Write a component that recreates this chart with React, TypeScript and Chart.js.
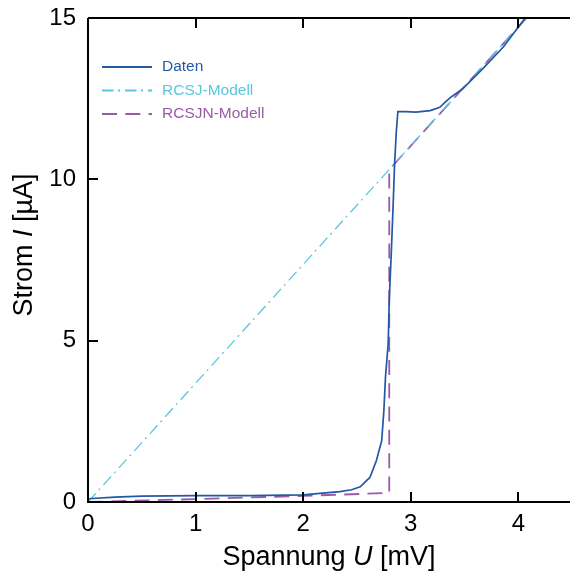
import React, { useEffect, useRef } from "react";
import { Chart, registerables } from "chart.js";

Chart.register(...registerables);

// Measured data (Daten)
const datenU = [0, 0.25, 0.5, 1.0, 1.5, 2.0, 2.34, 2.45, 2.53, 2.62, 2.68, 2.73, 2.75, 2.765, 2.79, 2.8, 2.82, 2.835, 2.85, 2.865, 2.88, 2.95, 3.05, 3.18, 3.27, 3.32, 3.37, 3.48, 3.67, 3.86, 4.07, 4.2];
const datenI = [0.1, 0.15, 0.18, 0.2, 0.2, 0.22, 0.32, 0.38, 0.47, 0.76, 1.28, 1.9, 2.83, 3.87, 4.9, 6.26, 7.8, 9.1, 10.5, 11.45, 12.1, 12.1, 12.08, 12.13, 12.23, 12.39, 12.54, 12.8, 13.43, 14.1, 15.03, 15.5];

// RCSJ model
const rcsjU = [0, 4.1];
const rcsjI = [0, 15.09];

// RCSJN model
const rcsjnU = [0, 1.0, 2.0, 2.8, 2.8, 4.1];
const rcsjnI = [0, 0.09, 0.19, 0.28, 10.3, 15.09];

const xTicks = [0, 1, 2, 3, 4];
const yTicks = [0, 5, 10, 15];

const seriesNames = ["Daten", "RCSJ-Modell", "RCSJN-Modell"];
const colors = ["#2358a6", "#5cc6dc", "#9b5aa8"];
const dashes: number[][] = [[], [11.5, 4.5, 2, 5], [15, 8.3]];

const FONT = "'Liberation Sans', Arial, Helvetica, sans-serif";

const toPts = (xs: number[], ys: number[]) => xs.map((x, i) => ({ x, y: ys[i] }));

const decorPlugin = {
  id: "decor",
  afterDraw(chart: any) {
    const ctx = chart.ctx as CanvasRenderingContext2D;
    const { left, right, top, bottom } = chart.chartArea;
    const xs = chart.scales.x;
    const ys = chart.scales.y;
    ctx.save();
    // frame
    ctx.strokeStyle = "#000";
    ctx.lineWidth = 2;
    ctx.setLineDash([]);
    ctx.beginPath();
    ctx.moveTo(left, top);
    ctx.lineTo(right, top);
    ctx.moveTo(left, top);
    ctx.lineTo(left, bottom);
    ctx.lineTo(right, bottom);
    ctx.stroke();
    // inward ticks
    ctx.lineWidth = 2;
    ctx.beginPath();
    xTicks.forEach((v) => {
      if (v === 0) return;
      const px = Math.round(xs.getPixelForValue(v));
      ctx.moveTo(px, bottom);
      ctx.lineTo(px, bottom - 10);
      ctx.moveTo(px, top);
      ctx.lineTo(px, top + 10);
    });
    yTicks.forEach((v) => {
      if (v === 0 || v === 15) return;
      const py = Math.round(ys.getPixelForValue(v));
      ctx.moveTo(left, py);
      ctx.lineTo(left + 10, py);
    });
    ctx.stroke();

    // axis titles with italic symbol
    const drawMixed = (parts: [string, boolean][], cx: number, cy: number, rotate: boolean) => {
      ctx.save();
      ctx.translate(cx, cy);
      if (rotate) ctx.rotate(-Math.PI / 2);
      ctx.fillStyle = "#000";
      ctx.textBaseline = "alphabetic";
      ctx.textAlign = "left";
      let total = 0;
      const widths = parts.map(([t, it]) => {
        ctx.font = `${it ? "italic " : ""}27px ${FONT}`;
        const w = ctx.measureText(t).width;
        total += w;
        return w;
      });
      let x = -total / 2;
      parts.forEach(([t, it], i) => {
        ctx.font = `${it ? "italic " : ""}27px ${FONT}`;
        ctx.fillText(t, x, 0);
        x += widths[i];
      });
      ctx.restore();
    };
    drawMixed([["Spannung ", false], ["U", true], [" [mV]", false]], (left + right) / 2, 565, false);
    drawMixed([["Strom ", false], ["I", true], [" [µA]", false]], 32, 245, true);

    // legend
    ctx.font = `15.5px ${FONT}`;
    ctx.textBaseline = "middle";
    ctx.textAlign = "left";
    seriesNames.forEach((name, i) => {
      const y = 67 + i * 23.5;
      ctx.strokeStyle = colors[i];
      ctx.lineWidth = 2;
      ctx.setLineDash(dashes[i]);
      ctx.beginPath();
      ctx.moveTo(left + 14, y);
      ctx.lineTo(left + 64, y);
      ctx.stroke();
      ctx.fillStyle = colors[i];
      ctx.fillText(name, left + 74, y);
    });
    ctx.restore();
  },
};

export default function App() {
  const ref = useRef<HTMLCanvasElement | null>(null);
  useEffect(() => {
    document.body.style.margin = "0";
    if (!ref.current) return;
    const chart = new Chart(ref.current, {
      type: "scatter",
      data: {
        datasets: [
          {
            label: seriesNames[0],
            data: toPts(datenU, datenI),
            showLine: true,
            borderColor: colors[0],
            borderWidth: 1.7,
            pointRadius: 0,
            tension: 0,
          },
          {
            label: seriesNames[1],
            data: toPts(rcsjU, rcsjI),
            showLine: true,
            borderColor: colors[1],
            borderWidth: 1.3,
            borderDash: dashes[1],
            pointRadius: 0,
          },
          {
            label: seriesNames[2],
            data: toPts(rcsjnU, rcsjnI),
            showLine: true,
            borderColor: colors[2],
            borderWidth: 1.8,
            borderDash: dashes[2],
            pointRadius: 0,
          },
        ],
      },
      options: {
        responsive: false,
        animation: false,
        layout: { padding: { top: 18, right: 0, left: 0, bottom: 0 } },
        plugins: { legend: { display: false }, tooltip: { enabled: false } },
        scales: {
          x: {
            type: "linear",
            min: 0,
            max: 4.48,
            afterBuildTicks: (s: any) => {
              s.ticks = xTicks.map((v) => ({ value: v }));
            },
            afterFit: (s: any) => {
              s.height = 77;
              s.paddingLeft = 0;
              s.paddingRight = 0;
            },
            grid: { display: false, drawTicks: false },
            border: { display: false },
            ticks: {
              font: { family: FONT, size: 24 },
              color: "#000",
              padding: 8,
              maxRotation: 0,
            },
          },
          y: {
            type: "linear",
            min: 0,
            max: 15,
            afterBuildTicks: (s: any) => {
              s.ticks = yTicks.map((v) => ({ value: v }));
            },
            afterFit: (s: any) => {
              s.width = 88;
              s.paddingTop = 0;
              s.paddingBottom = 0;
            },
            grid: { display: false, drawTicks: false },
            border: { display: false },
            ticks: {
              font: { family: FONT, size: 24 },
              color: "#000",
              padding: 12,
            },
          },
        },
      },
      plugins: [decorPlugin],
    });
    return () => chart.destroy();
  }, []);
  return <canvas ref={ref} width={570} height={579} />;
}
